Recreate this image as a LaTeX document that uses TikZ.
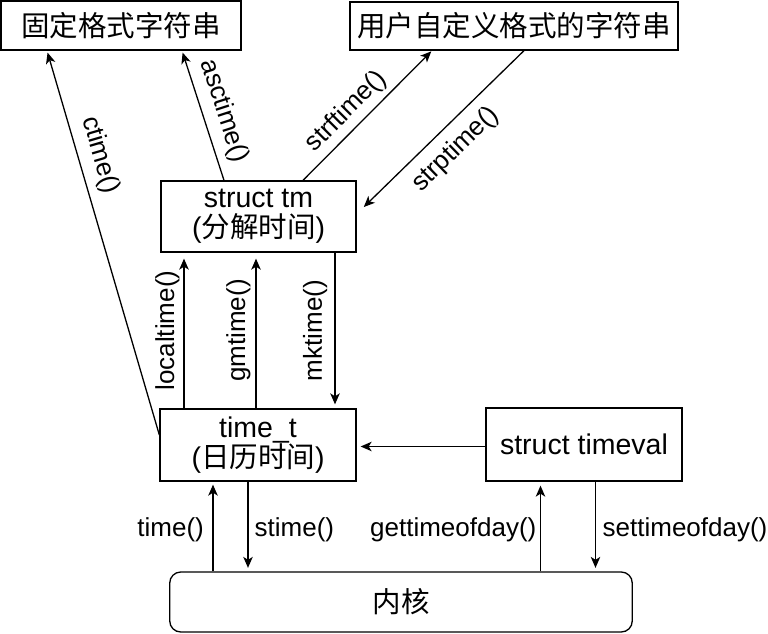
\documentclass[tikz,border=0pt]{standalone}
\usepackage{fontspec}
\setmainfont{Liberation Sans}
\newfontfamily\cjk{Noto Sans CJK SC}
\usetikzlibrary{arrows.meta}
\newcommand\mybfont{\fontsize{28.5}{30}\selectfont}
\newcommand\mylfont{\fontsize{26}{30}\selectfont}
\begin{document}
\begin{tikzpicture}[x=1pt,y=-1pt,
  >={Stealth[length=11pt,width=9.5pt,inset=3pt]},
  box/.style={draw=black, line width=1.3pt, inner sep=0pt, align=center, font=\mybfont},
  conn/.style={line width=1.3pt},
  lbl/.style={font=\mylfont, inner xsep=0pt, text=black}]
\fill[white] (0,0) rectangle (768,634);
\useasboundingbox (0,0) rectangle (768,634);

\node[box, minimum width=240pt, minimum height=49pt] (fixed) at (121,25.5) {\cjk 固定格式字符串};
\node[box, minimum width=328pt, minimum height=48pt] (user) at (514,26) {\cjk 用户自定义格式的字符串};
\node[box, minimum width=195pt, minimum height=71pt] (tm) at (258.5,216.5) {struct tm\\({\cjk 分解时间})};
\node[box, minimum width=196pt, minimum height=72pt] (timet) at (258,445) {time\_t\\({\cjk 日历时间})};
\node[box, minimum width=196pt, minimum height=73pt] (timeval) at (584,444.5) {struct timeval};
\node[box, rounded corners=11pt, minimum width=462.5pt, minimum height=60pt] (kernel) at (401,602) {\cjk 内核};

% ctime
\draw[conn, <-, shorten <=2pt] ([xshift=-74pt]fixed.south) -- node[lbl, pos=0.288, sloped, above, inner ysep=8.9pt]{ctime()} ([yshift=10pt]timet.west);
% asctime
\draw[conn, <-, shorten <=2pt] ([xshift=61pt]fixed.south) -- node[lbl, pos=0.516, sloped, above, inner ysep=8.2pt]{asctime()} ([xshift=-34.5pt]tm.north);
% strftime
\draw[conn, ->, shorten >=1pt] ([xshift=44.5pt]tm.north) -- node[lbl, pos=0.433, sloped, above, inner ysep=5pt]{strftime()} ([xshift=-82pt]user.south);
% strptime
\draw[conn, <-, shorten <=10pt] ([yshift=2.5pt]tm.east) -- node[lbl, pos=0.495, sloped, below, inner ysep=10.5pt]{strptime()} ([xshift=10pt]user.south);
% localtime
\draw[conn, ->, shorten >=6pt] ([xshift=-74pt]timet.north) -- node[lbl, midway, sloped, above, inner ysep=3.9pt]{localtime()} ([xshift=-74pt]timet.north |- tm.south);
% gmtime
\draw[conn, ->, shorten >=6pt] ([xshift=-2pt]timet.north) -- node[lbl, midway, sloped, above, inner ysep=4.9pt]{gmtime()} ([xshift=-2pt]timet.north |- tm.south);
% mktime
\draw[conn, <-, shorten <=4pt] ([xshift=77pt]timet.north) -- node[lbl, midway, sloped, above, inner ysep=7.2pt]{mktime()} ([xshift=77pt]timet.north |- tm.south);
% timeval -> time_t
\draw[conn, ->, shorten >=4pt] ([yshift=-2pt]timeval.west) -- ([yshift=-2pt]timeval.west -| timet.east);
% time()
\draw[conn, ->, shorten >=3pt] ([xshift=-188pt]kernel.north) -- node[lbl, pos=0.46, left, inner xsep=8.5pt]{time()} ([xshift=-188pt]kernel.north |- timet.south);
% stime()
\draw[conn, ->, shorten >=3.5pt] ([xshift=-10pt]timet.south) -- node[lbl, pos=0.54, right, inner xsep=6pt]{stime()} ([xshift=-10pt]timet.south |- kernel.north);
% gettimeofday()
\draw[conn, ->, shorten >=4pt] ([xshift=139.5pt]kernel.north) -- node[lbl, pos=0.46, left, inner xsep=3.5pt]{gettimeofday()} ([xshift=139.5pt]kernel.north |- timeval.south);
% settimeofday()
\draw[conn, ->, shorten >=3.5pt] ([xshift=11.5pt]timeval.south) -- node[lbl, pos=0.54, right, inner xsep=6.5pt]{settimeofday()} ([xshift=11.5pt]timeval.south |- kernel.north);
\end{tikzpicture}
\end{document}
